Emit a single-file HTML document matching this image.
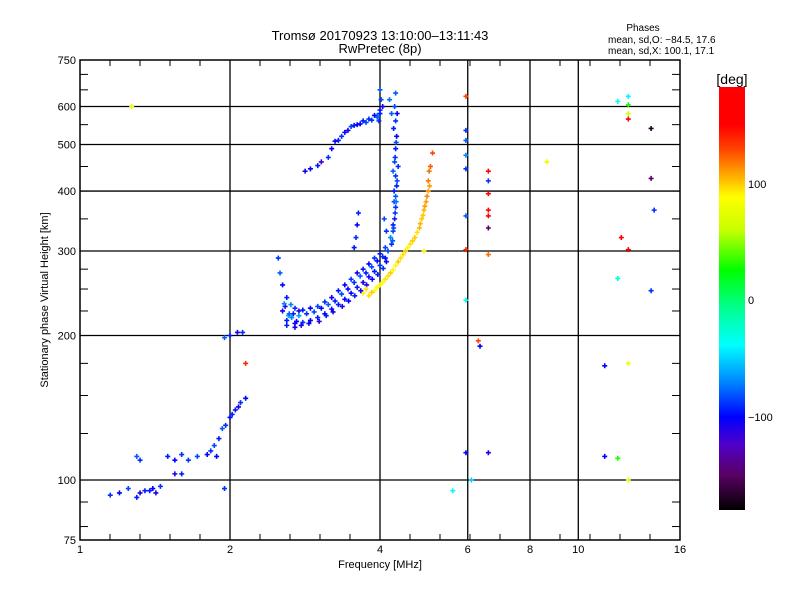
<!DOCTYPE html>
<html><head><meta charset="utf-8"><style>
body{margin:0;background:#fff;}
svg text{font-family:"Liberation Sans",sans-serif;fill:#000;}
</style></head><body>
<svg id="c" width="800" height="600" xmlns="http://www.w3.org/2000/svg">
<rect width="800" height="600" fill="#fff"/>
<text x="380" y="40" font-size="13" text-anchor="middle">Tromsø 20170923 13:10:00–13:11:43</text>
<text x="380" y="53" font-size="13" text-anchor="middle">RwPretec (8p)</text>
<text x="643" y="31" font-size="10" text-anchor="middle">Phases</text>
<text x="608" y="43" font-size="10">mean, sd,O: −84.5, 17.6</text>
<text x="608" y="54" font-size="10">mean, sd,X: 100.1, 17.1</text>
<g id="grid"></g>
<g id="pts"></g>
<rect x="80" y="60" width="600" height="480" fill="none" stroke="#000" stroke-width="1.5"/>
<g id="axes"></g>
<text x="380" y="568" font-size="11" text-anchor="middle">Frequency [MHz]</text>
<text transform="translate(48,300) rotate(-90)" font-size="11" text-anchor="middle">Stationary phase Virtual Height [km]</text>
<defs><linearGradient id="cg" x1="0" y1="0" x2="0" y2="1"></linearGradient></defs>
<rect id="cbar" x="719" y="87" width="26" height="423"/>
<text x="732" y="84" font-size="14" text-anchor="middle">[deg]</text>
<text x="748" y="188" font-size="11">100</text>
<text x="748" y="304" font-size="11">0</text>
<text x="748" y="421" font-size="11">−100</text>
</svg>
<script>
const xTicks=[1,2,4,6,8,10,16];
const yTicks=[75,100,200,300,400,500,600,750];
const yMinor=[80,90,125,150,175,225,250,275,350,450,550,650,700];
const gridX=[2,4,6,8,10];
const gridY=[100,200,300,400,500,600];
const freq=[2.50,2.52,2.55,2.6,2.65,2.7,2.75,2.8,2.9,3.0,3.1,3.2,3.3,3.4,3.5,3.6,3.7,3.8,3.9,4.0,4.1,
2.55,2.6,2.7,2.8,2.9,3.0,3.1,3.2,3.3,3.4,3.5,3.6,3.7,3.8,3.9,4.0,4.1,4.15,2.62,2.66,2.72,2.68,2.58,
4.22,4.25,4.28,4.3,4.3,4.32,4.3,4.28,4.3,4.32,4.3,4.28,4.3,4.25,4.35,4.2,4.33,4.27,
3.98,4.0,4.02,4.0,3.95,4.05,
2.83,2.9,3.0,3.05,3.15,3.2,3.3,3.4,3.5,3.6,3.7,3.8,3.9,4.0,
3.62,3.6,3.58,3.55,
3.7,3.8,3.9,4.0,4.1,4.2,4.3,4.4,4.5,4.6,4.7,4.8,4.85,4.9,4.95,5.0,5.0,5.05,5.1,4.9,5.02,
1.15,1.2,1.25,1.3,1.32,1.35,1.4,1.45,1.3,1.32,1.5,1.55,1.6,1.55,1.6,1.8,1.83,1.86,1.9,1.93,1.96,2.0,2.05,2.1,2.15,1.95,2.0,2.07,2.12,1.27,1.95,2.15,
5.95,5.95,5.95,5.95,5.95,5.95,5.95,5.95,5.95,5.6,6.1,
6.6,6.6,6.6,6.6,6.6,6.6,6.6,6.35,6.3,6.6,8.65,
12.0,12.6,12.6,12.6,12.6,14.0,14.0,14.2,12.2,12.6,12.0,14.0,11.3,12.6,11.3,12.0,12.6,
2.57,2.63,2.75,2.85,2.95,3.05,3.15,3.25,3.35,3.45,3.55,3.65,3.75,3.85,3.95,4.05,
2.6,2.7,2.78,2.88,3.02,3.12,3.22,3.36,3.46,3.56,3.66,3.76,3.86,3.96,4.06,4.12,
4.24,4.26,4.29,4.31,4.27,4.33,4.25,4.29,4.31,4.26,4.22,4.18,4.12,4.08,
3.75,3.85,3.95,4.05,4.15,4.25,4.35,4.45,4.55,4.65,4.75,4.82,4.88,4.92,4.97,5.03,
3.25,3.35,3.45,3.55,3.65,3.75,3.85,3.95,1.38,1.42,1.65,1.72,1.88,2.02,2.08];
const height=[290,270,255,240,232,228,225,226,228,230,235,240,248,255,262,270,275,282,290,296,305,
225,215,212,213,215,218,222,227,232,238,245,252,258,265,272,280,290,300,220,218,214,222,230,
310,330,350,370,390,410,430,460,490,520,560,600,640,340,450,320,580,380,
560,590,620,650,575,600,
440,445,452,460,470,490,510,530,545,550,560,565,575,580,
360,340,320,305,
245,242,248,255,262,270,280,290,300,310,320,335,350,365,380,400,420,450,480,300,440,
93,94,96,92,94,95,96,97,112,110,112,110,113,103,103,113,115,118,122,128,130,135,140,145,148,198,200,203,203,600,96,175,
630,535,510,475,445,355,302,237,114,95,100,
440,420,395,365,355,335,295,190,195,114,460,
615,630,605,580,565,540,425,365,320,302,263,248,173,175,112,111,100,
233,222,220,222,224,228,232,236,244,250,258,266,270,278,286,292,
210,208,210,212,214,220,224,230,236,242,248,255,262,268,276,285,
315,335,360,380,400,420,440,470,505,540,580,620,330,350,
250,246,252,258,266,274,285,295,305,315,328,342,356,372,390,410,
508,520,535,548,552,556,562,570,95,94,110,112,112,137,142];
const phase=[-90,-80,-100,-95,-70,-90,-110,-95,-100,-85,-90,-105,-95,-100,-90,-110,-95,-100,-90,-95,-85,
-100,-95,-110,-90,-105,-95,-100,-110,-95,-105,-100,-95,-110,-100,-95,-90,-100,-85,-60,-70,-100,-95,-110,
-90,-85,-95,-90,-80,-95,-90,-85,-95,-100,-90,-85,-80,-95,-90,-70,-100,-85,
-90,-95,-85,-80,-70,-110,
-110,-100,-95,-120,-90,-100,-95,-100,-85,-110,-95,-90,-100,-95,
-95,-100,-90,-95,
90,95,85,90,95,100,90,95,100,95,100,105,100,105,110,110,120,125,130,90,120,
-90,-100,-85,-95,-110,-95,-100,-90,-80,-90,-95,-100,-90,-110,-95,-100,-90,-85,-95,-80,-90,-100,-95,-90,-100,-80,-95,-110,-90,80,-90,140,
130,-90,-80,-70,-90,-80,140,-40,-100,-40,-50,
150,-90,150,170,170,-150,120,-100,130,-110,80,
-40,-40,30,70,170,-170,-150,-90,170,170,-30,-90,-100,80,-100,30,80,
-70,-80,-65,-90,-85,-100,-80,-95,-85,-100,-90,-80,-95,-85,-100,-90,
-95,-105,-110,-100,-115,-95,-105,-110,-100,-95,-105,-110,-100,-95,-90,-100,
-80,-85,-90,-75,-95,-85,-80,-90,-85,-95,-80,-75,-90,-85,
95,100,90,85,95,90,100,95,90,100,95,105,100,110,115,110,
-100,-90,-110,-95,-100,-85,-90,-80,-95,-110,-90,-85,-100,-95,-110];
const NS='http://www.w3.org/2000/svg';
const L=80,R=680,T=60,B=540;
function xs(f){return L+(R-L)*Math.log(f)/Math.log(16);}
function ys(h){return B-(B-T)*Math.log10(h/75);}
const stops=[[87,[255,0,0]],[125,[255,0,0]],[150,[255,70,0]],[170,[255,150,0]],[197,[255,255,0]],[230,[200,255,0]],[270,[0,255,0]],[310,[0,255,150]],[345,[0,255,255]],[380,[0,140,255]],[417,[0,0,255]],[445,[80,0,200]],[475,[90,0,100]],[510,[0,0,0]]];
function col(v){let y=300-1.16*v;y=Math.max(87,Math.min(510,y));
for(let i=0;i<stops.length-1;i++){const a=stops[i],b=stops[i+1];if(y<=b[0]){const t=(y-a[0])/(b[0]-a[0]||1);const c=a[1].map((q,k)=>Math.round(q+(b[1][k]-q)*t));return 'rgb('+c.join(',')+')';}}return '#000';}
function mk(tag,at,parent){const e=document.createElementNS(NS,tag);for(const k in at)e.setAttribute(k,at[k]);parent.appendChild(e);return e;}
const grid=document.getElementById('grid'),axes=document.getElementById('axes'),pts=document.getElementById('pts');
gridX.forEach(f=>{const l=mk('line',{x1:xs(f),x2:xs(f),y1:T,y2:B,stroke:'#000','stroke-width':1.3},grid);

});
gridY.forEach(h=>{const l=mk('line',{x1:L,x2:R,y1:ys(h),y2:ys(h),stroke:'#000','stroke-width':1.3},grid);

});
for(let x=L+30;x<R;x+=30){[[B,B-6],[T,T+6]].forEach(p=>{mk('line',{x1:x,x2:x,y1:p[0],y2:p[1],stroke:'#000'},axes);});}
yMinor.concat(yTicks).forEach(h=>{const y=ys(h);mk('line',{x1:L,x2:L+8,y1:y,y2:y,stroke:'#000'},axes);mk('line',{x1:R,x2:R-8,y1:y,y2:y,stroke:'#000'},axes);});
xTicks.forEach(f=>{const t=mk('text',{x:xs(f),y:553,'font-size':11,'text-anchor':'middle'},axes);t.textContent=f;

});
yTicks.forEach(h=>{const t=mk('text',{x:76,y:ys(h)+4,'font-size':11,'text-anchor':'end'},axes);t.textContent=h;

});
for(let i=0;i<freq.length;i++){const x=xs(freq[i]),y=ys(height[i]),c=col(phase[i]);
const p=mk('path',{d:`M${x-2.5},${y}h5M${x},${y-2.5}v5`,stroke:c,'stroke-width':1.6},pts);

}
const g=document.querySelector('#cg');
stops.forEach(s=>{mk('stop',{offset:((s[0]-87)/423).toFixed(3),'stop-color':'rgb('+s[1].join(',')+')'},g);});
document.getElementById('cbar').setAttribute('fill','url(#cg)');
</script>
</body></html>
